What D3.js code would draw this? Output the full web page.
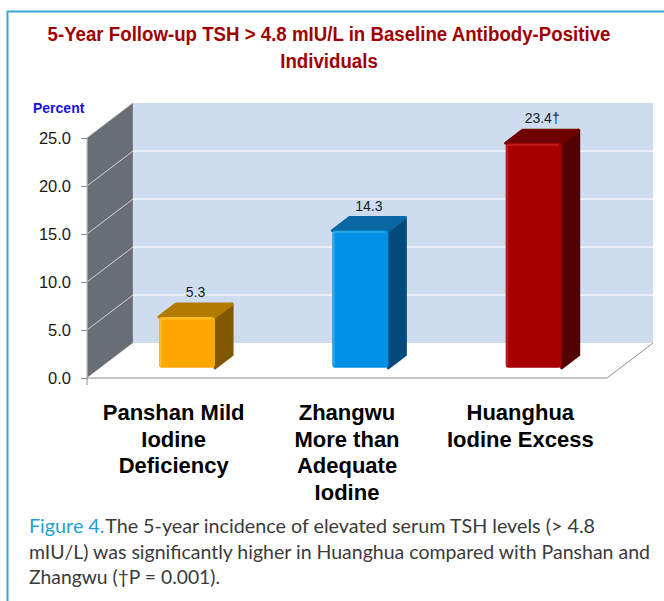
<!DOCTYPE html>
<html>
<head>
<meta charset="utf-8">
<script src="https://cdn.jsdelivr.net/npm/d3@7"></script>
<style>
	body { margin: 0; background: #ffffff; }
	svg { display: block; }
</style>
</head>
<body>
<svg id="chart" width="664" height="601"></svg>
<script>
// chart values
var Categories = ["Panshan", "Zhangwu", "Huanghua"];
var CategoryLines =
[
	["Panshan Mild", "Iodine", "Deficiency"],
	["Zhangwu", "More than", "Adequate", "Iodine"],
	["Huanghua", "Iodine Excess"]
];
var Values = [5.3, 14.3, 23.4];
var ValueLabels = ["5.3", "14.3", "23.4\u2020"];
var YTicks = [0, 5, 10, 15, 20, 25];
var YTickLabels = ["0.0", "5.0", "10.0", "15.0", "20.0", "25.0"];
var TitleLines = ["5-Year Follow-up TSH > 4.8 mIU/L in Baseline Antibody-Positive", "Individuals"];
var CaptionLines =
[
	"The 5-year incidence of elevated serum TSH levels (> 4.8",
	"mIU/L) was significantly higher in Huanghua compared with Panshan and",
	"Zhangwu (\u2020P = 0.001)."
];

// bar colours: front, top, side
var BarColors =
[
	{"front":"#ffa700", "top":"#b27a00", "side":"#7f5800", "light":"#ffc633"},
	{"front":"#0090e6", "top":"#0b67a3", "side":"#004b7b", "light":"#33aaf0"},
	{"front":"#a80000", "top":"#700000", "side":"#520000", "light":"#cc2222"}
];

var SVG = d3.select("#chart");

// 3d frame: front plane + depth vector
var Depth = {"x":46, "y":-35};
var BarZ0 = 0.29, BarZ1 = 0.66;

var y = d3.scaleLinear().domain([0, 25]).range([378, 138]);
var x = d3.scaleBand().domain(Categories).range([87, 607]);

var x0 = x.range()[0], x1 = x.range()[1];

// side wall
SVG.append("polygon")
	.attr("points", [[x0, y(0)], [x0, y(25)], [x0 + Depth.x, y(25) + Depth.y], [x0 + Depth.x, y(0) + Depth.y]].join(" "))
	.attr("fill", "#696d76")
	.attr("stroke", "#9a9ea6")
	.attr("stroke-width", 0.8);

// back wall
SVG.append("rect")
	.attr("x", x0 + Depth.x)
	.attr("y", y(25) + Depth.y)
	.attr("width", x1 - x0)
	.attr("height", y(0) - y(25))
	.attr("fill", "#cddcee");

// floor
SVG.append("polygon")
	.attr("points", [[x0, y(0)], [x1, y(0)], [x1 + Depth.x, y(0) + Depth.y], [x0 + Depth.x, y(0) + Depth.y]].join(" "))
	.attr("fill", "#ffffff");

SVG.append("path")
	.attr("d", "M" + x0 + "," + y(0) + " L" + x1 + "," + y(0) + " L" + (x1 + Depth.x) + "," + (y(0) + Depth.y))
	.attr("fill", "none")
	.attr("stroke", "#8c8c8c")
	.attr("stroke-width", 1);

// grid lines
var GridTicks = YTicks.filter(function(d){ return d > 0 && d < 25; });

SVG.selectAll("line.sidegrid")
	.data(GridTicks)
	.enter().append("line")
	.attr("class", "sidegrid")
	.attr("x1", x0)
	.attr("y1", function(d){ return y(d); })
	.attr("x2", x0 + Depth.x)
	.attr("y2", function(d){ return y(d) + Depth.y; })
	.attr("stroke", "#d4d7dc")
	.attr("stroke-width", 1);

SVG.selectAll("line.backgrid")
	.data(GridTicks)
	.enter().append("line")
	.attr("class", "backgrid")
	.attr("x1", x0 + Depth.x)
	.attr("y1", function(d){ return y(d) + Depth.y; })
	.attr("x2", x1 + Depth.x)
	.attr("y2", function(d){ return y(d) + Depth.y; })
	.attr("stroke", "#f4f7fb")
	.attr("stroke-width", 1.5);

// y axis
var YAxis = d3.axisLeft(y)
	.tickValues(YTicks)
	.tickSize(6)
	.tickPadding(10)
	.tickFormat(function(d, i){ return YTickLabels[i]; });

var YAxisG = SVG.append("g")
	.attr("transform", "translate(" + x0 + ",0)")
	.call(YAxis);

YAxisG.select(".domain").attr("stroke", "#a0a0a0");
YAxisG.selectAll(".tick line").attr("stroke", "#8c8c8c");
YAxisG.selectAll(".tick text")
	.attr("font-family", "'Liberation Sans', Arial, sans-serif")
	.attr("font-size", 16.5)
	.attr("fill", "#1a1a1a");

// small tick under the floor corner
SVG.append("line")
	.attr("x1", x0).attr("x2", x0)
	.attr("y1", y(0)).attr("y2", y(0) + 7)
	.attr("stroke", "#8c8c8c");

SVG.append("text")
	.attr("x", 33)
	.attr("y", 113)
	.attr("font-family", "'Liberation Sans', Arial, sans-serif")
	.attr("font-weight", "bold")
	.attr("font-size", 14)
	.attr("fill", "#1414e6")
	.text("Percent");

// bars
var BarWidth = 56;
var FrontDX = Depth.x * BarZ0, FrontDY = Depth.y * BarZ0;
var DeepDX = Depth.x * (BarZ1 - BarZ0), DeepDY = Depth.y * (BarZ1 - BarZ0);

var BarData = Values.map(function(v, i)
	{
		return {"cat":Categories[i], "value":v, "label":ValueLabels[i], "color":BarColors[i]};
	}
);

var Bars = SVG.selectAll("g.bar")
	.data(BarData)
	.enter().append("g")
	.attr("class", "bar")
	.each(function(d)
		{
			d.left = x(d.cat) + x.bandwidth() / 2 + FrontDX - BarWidth / 2;
			d.right = d.left + BarWidth;
			d.bottom = y(0) + FrontDY;
			d.top = y(d.value) + FrontDY;
		}
	);

// side face
Bars.append("polygon")
	.attr("points", function(d)
		{
			return [[d.right, d.bottom], [d.right, d.top], [d.right + DeepDX, d.top + DeepDY], [d.right + DeepDX, d.bottom + DeepDY]].join(" ");
		})
	.attr("fill", function(d){ return d.color.side; })
	.attr("stroke", function(d){ return d.color.side; })
	.attr("stroke-linejoin", "round")
	.attr("stroke-width", 3);

// top face
Bars.append("polygon")
	.attr("points", function(d)
		{
			return [[d.left, d.top], [d.right, d.top], [d.right + DeepDX, d.top + DeepDY], [d.left + DeepDX, d.top + DeepDY]].join(" ");
		})
	.attr("fill", function(d){ return d.color.top; })
	.attr("stroke", function(d){ return d.color.top; })
	.attr("stroke-linejoin", "round")
	.attr("stroke-width", 3);

// front face
Bars.append("rect")
	.attr("x", function(d){ return d.left; })
	.attr("y", function(d){ return d.top; })
	.attr("width", BarWidth)
	.attr("height", function(d){ return d.bottom - d.top; })
	.attr("rx", 3)
	.attr("fill", function(d){ return d.color.front; });

// bevel highlight
Bars.append("path")
	.attr("d", function(d)
		{
			return "M" + (d.left + 1.5) + "," + (d.bottom - 2) + " L" + (d.left + 1.5) + "," + (d.top + 3) +
				" Q" + (d.left + 1.5) + "," + (d.top + 1.5) + " " + (d.left + 3) + "," + (d.top + 1.5) +
				" L" + (d.right - 3) + "," + (d.top + 1.5);
		})
	.attr("fill", "none")
	.attr("stroke", function(d){ return d.color.light; })
	.attr("stroke-width", 2)
	.attr("opacity", 0.8);

Bars.append("text")
	.attr("x", function(d){ return (d.left + d.right + DeepDX) / 2; })
	.attr("y", function(d){ return d.top + DeepDY - 7; })
	.attr("text-anchor", "middle")
	.attr("font-family", "'Liberation Sans', Arial, sans-serif")
	.attr("font-size", 14)
	.attr("fill", "#1a1a1a")
	.text(function(d){ return d.label; });

// category labels
SVG.selectAll("text.cat")
	.data(Categories)
	.enter().append("text")
	.attr("class", "cat")
	.attr("text-anchor", "middle")
	.attr("font-family", "'Liberation Sans', Arial, sans-serif")
	.attr("font-weight", "bold")
	.attr("font-size", 22)
	.attr("fill", "#000000")
	.each(function(d, i)
		{
			var cx = x(d) + x.bandwidth() / 2;
			d3.select(this).selectAll("tspan")
				.data(CategoryLines[i])
				.enter().append("tspan")
				.attr("x", cx)
				.attr("y", function(t, j){ return 420 + j * 26.5; })
				.text(function(t){ return t; });
		}
	);

// title: narrow bold face, squeezed horizontally
var TitleSqueeze = 0.89;
SVG.append("g")
	.attr("transform", "translate(329,0) scale(" + TitleSqueeze + ",1)")
	.selectAll("text.title")
	.data(TitleLines)
	.enter().append("text")
	.attr("class", "title")
	.attr("x", 0)
	.attr("y", function(d, i){ return 41 + i * 27; })
	.attr("text-anchor", "middle")
	.attr("font-family", "'Liberation Sans', Arial, sans-serif")
	.attr("font-weight", "bold")
	.attr("font-size", 21)
	.attr("fill", "#a00000")
	.text(function(d){ return d; });

// caption
var CaptionWidths = [566, 621, 191];
var Caption = SVG.selectAll("text.caption")
	.data(CaptionLines)
	.enter().append("text")
	.attr("class", "caption")
	.attr("x", 29)
	.attr("y", function(d, i){ return 533 + i * 25.5; })
	.attr("font-family", "Lato, 'Open Sans', sans-serif")
	.attr("font-size", 19)
	.attr("fill", "#3a3a3a")
	.attr("textLength", function(d, i){ return CaptionWidths[i]; })
	.attr("lengthAdjust", "spacingAndGlyphs");

Caption.each(function(d, i)
	{
		var sel = d3.select(this);
		if(i == 0)
		{
			sel.append("tspan").attr("fill", "#1ea0d2").text("Figure 4.");
			sel.append("tspan").attr("dx", 2).text(d);
		}else
		{
			sel.text(d);
		}
	}
);

// slide border
SVG.append("path")
	.attr("d", "M7.5,601 L7.5,11.5 L664,11.5")
	.attr("fill", "none")
	.attr("stroke", "#3aa6d6")
	.attr("stroke-width", 2);
</script>
</body>
</html>
